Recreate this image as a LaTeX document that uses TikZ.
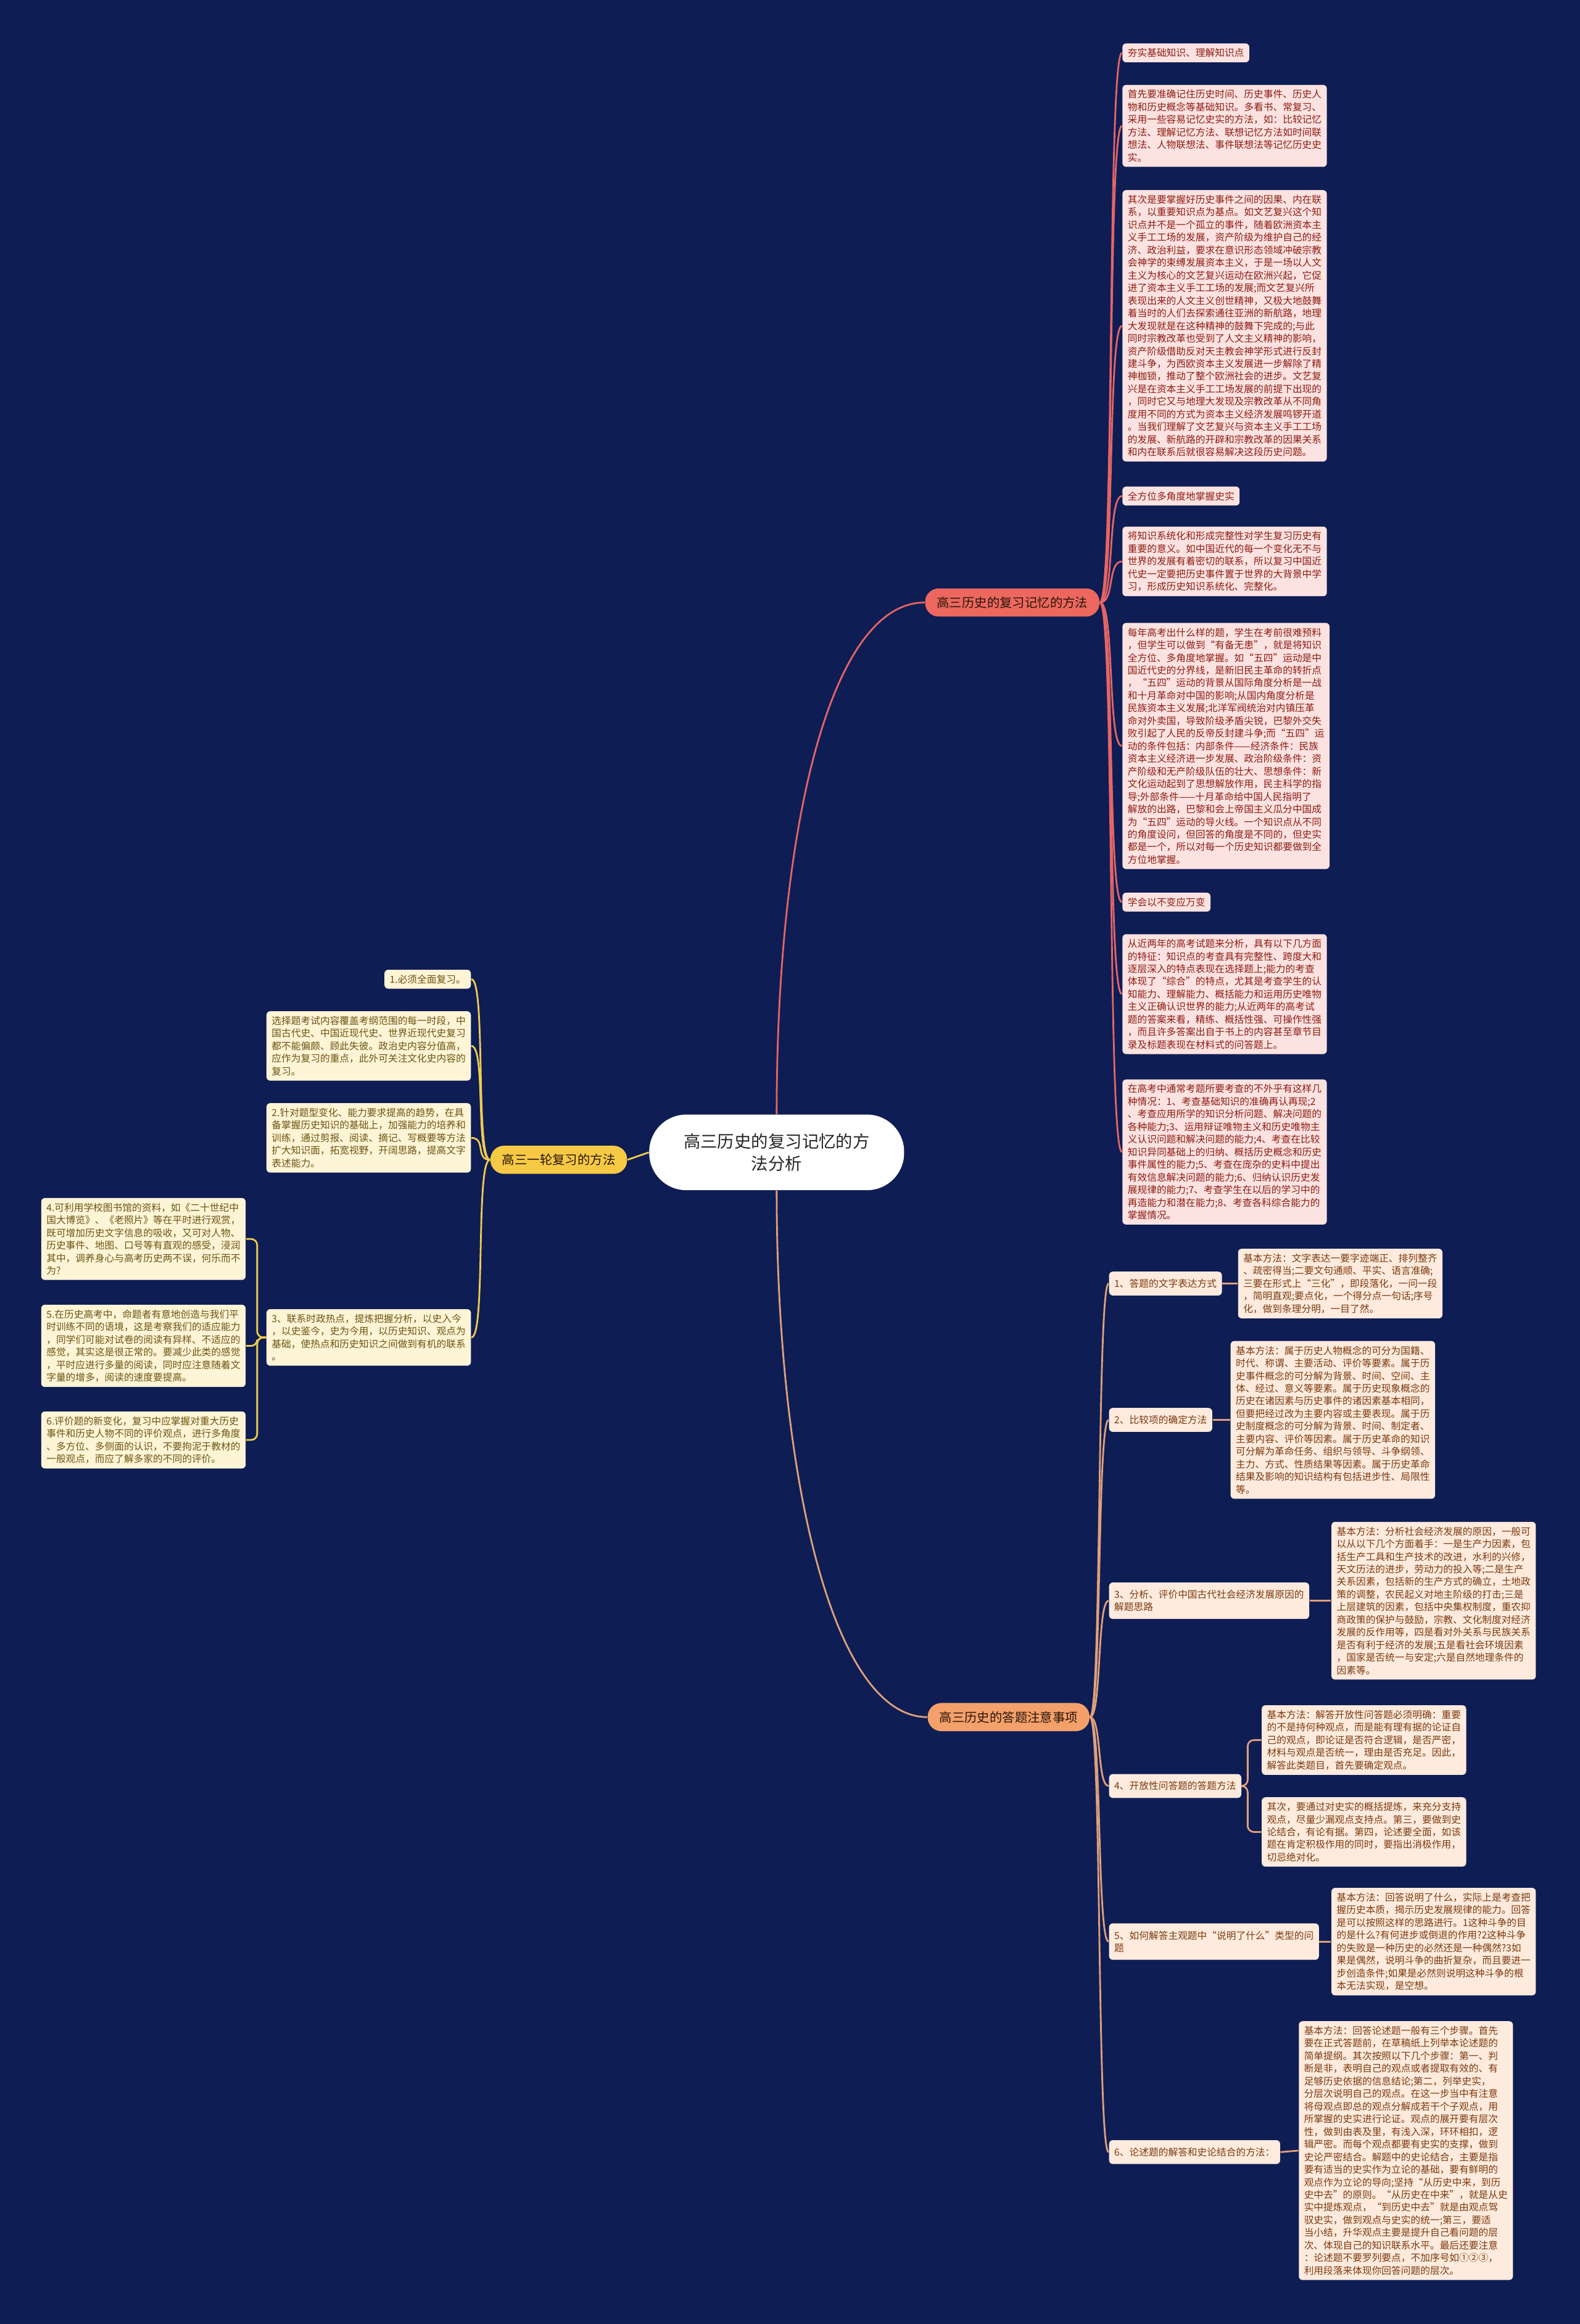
\documentclass[tikz,border=0pt]{standalone}
\usepackage{fontspec}
\setmainfont{Noto Sans CJK SC}
\definecolor{bgnavy}{RGB}{14,29,84}
\definecolor{redbr}{RGB}{236,104,94}
\definecolor{yelbr}{RGB}{246,201,69}
\definecolor{orabr}{RGB}{244,160,106}
\definecolor{brtext}{RGB}{40,20,10}
\definecolor{redfill}{RGB}{252,227,225}
\definecolor{redtext}{RGB}{140,28,19}
\definecolor{redln}{RGB}{229,101,101}
\definecolor{yelfill}{RGB}{254,244,214}
\definecolor{yeltext}{RGB}{107,85,18}
\definecolor{yelln}{RGB}{239,203,78}
\definecolor{orafill}{RGB}{254,235,221}
\definecolor{oratext}{RGB}{122,58,16}
\definecolor{oraln}{RGB}{224,160,122}
\begin{document}
\begin{tikzpicture}[x=0.024015cm,y=-0.024015cm,
  main/.style={fill=white,text=black!85,rounded corners=0.6cm,minimum width=4.13cm,minimum height=1.225cm,align=center,font=\fontsize{7.8pt}{10.4pt}\selectfont},
  branch/.style={rounded corners=0.22cm,minimum height=0.456cm,inner xsep=0.19cm,inner ysep=0pt,text=brtext,font=\fontsize{5.8pt}{7pt}\selectfont},
  box/.style={rounded corners=0.06cm,align=left,inner xsep=0.085cm,inner ysep=0.08cm,font=\fontsize{4.47pt}{5.82pt}\selectfont},
  redbox/.style={box,fill=redfill,text=redtext},
  yelbox/.style={box,fill=yelfill,text=yeltext},
  orabox/.style={box,fill=orafill,text=oratext},
  oralabel/.style={orabox,inner ysep=0.12cm},
  redline/.style={draw=redln,line width=0.8pt},
  yelline/.style={draw=yelln,line width=0.8pt},
  oraline/.style={draw=oraln,line width=0.8pt}]
\fill[bgnavy] (0,0) rectangle (1066,1568);

\node[main] (root) at (524,777.5) {高三历史的复习记忆的方\\法分析};
\node[branch,fill=redbr] (b1) at (683,406.5) {高三历史的复习记忆的方法};
\node[branch,fill=yelbr] (b2) at (377,782.5) {高三一轮复习的方法};
\node[branch,fill=orabr] (b3) at (680.5,1158.5) {高三历史的答题注意事项};

% right column, first branch
\node[redbox,anchor=north west] (c1) at (757,29) {夯实基础知识、理解知识点};
\node[redbox,anchor=north west] (c2) at (757,57) {首先要准确记住历史时间、历史事件、历史人\\物和历史概念等基础知识。多看书、常复习、\\采用一些容易记忆史实的方法，如：比较记忆\\方法、理解记忆方法、联想记忆方法如时间联\\想法、人物联想法、事件联想法等记忆历史史\\实。};
\node[redbox,anchor=north west] (c3) at (757,128) {其次是要掌握好历史事件之间的因果、内在联\\系，以重要知识点为基点。如文艺复兴这个知\\识点并不是一个孤立的事件，随着欧洲资本主\\义手工工场的发展，资产阶级为维护自己的经\\济、政治利益，要求在意识形态领域冲破宗教\\会神学的束缚发展资本主义，于是一场以人文\\主义为核心的文艺复兴运动在欧洲兴起，它促\\进了资本主义手工工场的发展;而文艺复兴所\\表现出来的人文主义创世精神，又极大地鼓舞\\着当时的人们去探索通往亚洲的新航路，地理\\大发现就是在这种精神的鼓舞下完成的;与此\\同时宗教改革也受到了人文主义精神的影响，\\资产阶级借助反对天主教会神学形式进行反封\\建斗争，为西欧资本主义发展进一步解除了精\\神枷锁，推动了整个欧洲社会的进步。文艺复\\兴是在资本主义手工工场发展的前提下出现的\\，同时它又与地理大发现及宗教改革从不同角\\度用不同的方式为资本主义经济发展鸣锣开道\\。当我们理解了文艺复兴与资本主义手工工场\\的发展、新航路的开辟和宗教改革的因果关系\\和内在联系后就很容易解决这段历史问题。};
\node[redbox,anchor=north west] (c4) at (757,328) {全方位多角度地掌握史实};
\node[redbox,anchor=north west] (c5) at (757,355) {将知识系统化和形成完整性对学生复习历史有\\重要的意义。如中国近代的每一个变化无不与\\世界的发展有着密切的联系，所以复习中国近\\代史一定要把历史事件置于世界的大背景中学\\习，形成历史知识系统化、完整化。};
\node[redbox,anchor=north west] (c6) at (757,420) {每年高考出什么样的题，学生在考前很难预料\\，但学生可以做到“有备无患”，就是将知识\\全方位、多角度地掌握。如“五四”运动是中\\国近代史的分界线，是新旧民主革命的转折点\\，“五四”运动的背景从国际角度分析是一战\\和十月革命对中国的影响;从国内角度分析是\\民族资本主义发展;北洋军阀统治对内镇压革\\命对外卖国，导致阶级矛盾尖锐，巴黎外交失\\败引起了人民的反帝反封建斗争;而“五四”运\\动的条件包括：内部条件——经济条件：民族\\资本主义经济进一步发展、政治阶级条件：资\\产阶级和无产阶级队伍的壮大、思想条件：新\\文化运动起到了思想解放作用，民主科学的指\\导;外部条件——十月革命给中国人民指明了\\解放的出路，巴黎和会上帝国主义瓜分中国成\\为“五四”运动的导火线。一个知识点从不同\\的角度设问，但回答的角度是不同的，但史实\\都是一个，所以对每一个历史知识都要做到全\\方位地掌握。};
\node[redbox,anchor=north west] (c7) at (757,602) {学会以不变应万变};
\node[redbox,anchor=north west] (c8) at (757,630) {从近两年的高考试题来分析，具有以下几方面\\的特征：知识点的考查具有完整性、跨度大和\\逐层深入的特点表现在选择题上;能力的考查\\体现了“综合”的特点，尤其是考查学生的认\\知能力、理解能力、概括能力和运用历史唯物\\主义正确认识世界的能力;从近两年的高考试\\题的答案来看，精练、概括性强、可操作性强\\，而且许多答案出自于书上的内容甚至章节目\\录及标题表现在材料式的问答题上。};
\node[redbox,anchor=north west] (c9) at (757,728) {在高考中通常考题所要考查的不外乎有这样几\\种情况：1、考查基础知识的准确再认再现;2\\、考查应用所学的知识分析问题、解决问题的\\各种能力;3、运用辩证唯物主义和历史唯物主\\义认识问题和解决问题的能力;4、考查在比较\\知识异同基础上的归纳、概括历史概念和历史\\事件属性的能力;5、考查在庞杂的史料中提出\\有效信息解决问题的能力;6、归纳认识历史发\\展规律的能力;7、考查学生在以后的学习中的\\再造能力和潜在能力;8、考查各科综合能力的\\掌握情况。};

% left side, second branch
\node[yelbox,anchor=north east] (a1) at (318,654) {1.必须全面复习。};
\node[yelbox,anchor=north east] (a2) at (318,682) {选择题考试内容覆盖考纲范围的每一时段，中\\国古代史、中国近现代史、世界近现代史复习\\都不能偏颇、顾此失彼。政治史内容分值高，\\应作为复习的重点，此外可关注文化史内容的\\复习。};
\node[yelbox,anchor=north east] (a3) at (318,744) {2.针对题型变化、能力要求提高的趋势，在具\\备掌握历史知识的基础上，加强能力的培养和\\训练，通过剪报、阅读、摘记、写概要等方法\\扩大知识面，拓宽视野，开阔思路，提高文字\\表述能力。};
\node[yelbox,anchor=north east] (a4) at (318,883) {3、联系时政热点，提炼把握分析，以史入今\\，以史鉴今，史为今用，以历史知识、观点为\\基础，使热点和历史知识之间做到有机的联系\\。};
\node[yelbox,anchor=north east] (e1) at (166,808) {4.可利用学校图书馆的资料，如《二十世纪中\\国大博览》、《老照片》等在平时进行观赏，\\既可增加历史文字信息的吸收，又可对人物、\\历史事件、地图、口号等有直观的感受，浸润\\其中，调养身心与高考历史两不误，何乐而不\\为?};
\node[yelbox,anchor=north east] (e2) at (166,880) {5.在历史高考中，命题者有意地创造与我们平\\时训练不同的语境，这是考察我们的适应能力\\，同学们可能对试卷的阅读有异样、不适应的\\感觉，其实这是很正常的。要减少此类的感觉\\，平时应进行多量的阅读，同时应注意随着文\\字量的增多，阅读的速度要提高。};
\node[yelbox,anchor=north east] (e3) at (166,952) {6.评价题的新变化，复习中应掌握对重大历史\\事件和历史人物不同的评价观点，进行多角度\\、多方位、多侧面的认识，不要拘泥于教材的\\一般观点，而应了解多家的不同的评价。};

% lower right, third branch
\node[oralabel,anchor=west] (l1) at (748,866) {1、答题的文字表达方式};
\node[orabox,anchor=west] (t1) at (835,866) {基本方法：文字表达一要字迹端正、排列整齐\\、疏密得当;二要文句通顺、平实、语言准确;\\三要在形式上“三化”，即段落化，一问一段\\，简明直观;要点化，一个得分点一句话;序号\\化，做到条理分明，一目了然。};
\node[oralabel,anchor=west] (l2) at (748,958) {2、比较项的确定方法};
\node[orabox,anchor=west] (t2) at (830,958) {基本方法：属于历史人物概念的可分为国籍、\\时代、称谓、主要活动、评价等要素。属于历\\史事件概念的可分解为背景、时间、空间、主\\体、经过、意义等要素。属于历史现象概念的\\历史在诸因素与历史事件的诸因素基本相同，\\但要把经过改为主要内容或主要表现。属于历\\史制度概念的可分解为背景、时间、制定者、\\主要内容、评价等因素。属于历史革命的知识\\可分解为革命任务、组织与领导、斗争纲领、\\主力、方式、性质结果等因素。属于历史革命\\结果及影响的知识结构有包括进步性、局限性\\等。};
\node[oralabel,anchor=west] (l3) at (748,1080) {3、分析、评价中国古代社会经济发展原因的\\解题思路};
\node[orabox,anchor=west] (t3) at (898,1080) {基本方法：分析社会经济发展的原因，一般可\\以从以下几个方面着手：一是生产力因素，包\\括生产工具和生产技术的改进，水利的兴修，\\天文历法的进步，劳动力的投入等;二是生产\\关系因素，包括新的生产方式的确立，土地政\\策的调整，农民起义对地主阶级的打击;三是\\上层建筑的因素，包括中央集权制度，重农抑\\商政策的保护与鼓励，宗教、文化制度对经济\\发展的反作用等，四是看对外关系与民族关系\\是否有利于经济的发展;五是看社会环境因素\\，国家是否统一与安定;六是自然地理条件的\\因素等。};
\node[oralabel,anchor=west] (l4) at (748,1205) {4、开放性问答题的答题方法};
\node[orabox,anchor=west] (t4a) at (851,1174) {基本方法：解答开放性问答题必须明确：重要\\的不是持何种观点，而是能有理有据的论证自\\己的观点，即论证是否符合逻辑，是否严密，\\材料与观点是否统一，理由是否充足。因此，\\解答此类题目，首先要确定观点。};
\node[orabox,anchor=west] (t4b) at (851,1236) {其次，要通过对史实的概括提炼，来充分支持\\观点，尽量少漏观点支持点。第三，要做到史\\论结合，有论有据。第四，论述要全面，如该\\题在肯定积极作用的同时，要指出消极作用，\\切忌绝对化。};
\node[oralabel,anchor=west] (l5) at (748,1310) {5、如何解答主观题中“说明了什么”类型的问\\题};
\node[orabox,anchor=west] (t5) at (898,1310) {基本方法：回答说明了什么，实际上是考查把\\握历史本质，揭示历史发展规律的能力。回答\\是可以按照这样的思路进行。1这种斗争的目\\的是什么?有何进步或倒退的作用?2这种斗争\\的失败是一种历史的必然还是一种偶然?3如\\果是偶然，说明斗争的曲折复杂，而且要进一\\步创造条件;如果是必然则说明这种斗争的根\\本无法实现，是空想。};
\node[oralabel,anchor=west] (l6) at (748,1452) {6、论述题的解答和史论结合的方法：};
\node[orabox,anchor=west] (t6) at (876,1451) {基本方法：回答论述题一般有三个步骤。首先\\要在正式答题前，在草稿纸上列举本论述题的\\简单提纲。其次按照以下几个步骤：第一、判\\断是非，表明自己的观点或者提取有效的、有\\足够历史依据的信息结论;第二，列举史实，\\分层次说明自己的观点。在这一步当中有注意\\将母观点即总的观点分解成若干个子观点，用\\所掌握的史实进行论证。观点的展开要有层次\\性，做到由表及里，有浅入深，环环相扣，逻\\辑严密。而每个观点都要有史实的支撑，做到\\史论严密结合。解题中的史论结合，主要是指\\要有适当的史实作为立论的基础，要有鲜明的\\观点作为立论的导向;坚持“从历史中来，到历\\史中去”的原则。“从历史在中来”，就是从史\\实中提炼观点，“到历史中去”就是由观点驾\\驭史实，做到观点与史实的统一;第三，要适\\当小结，升华观点主要是提升自己看问题的层\\次、体现自己的知识联系水平。最后还要注意\\：论述题不要罗列要点，不加序号如①②③，\\利用段落来体现你回答问题的层次。};

% connectors
\draw[redline] (root.north) .. controls +(0,-192) and +(-64,0) .. (b1.west);
\draw[oraline] (root.south) .. controls +(0,192) and +(-64,0) .. (b3.west);
\draw[yelline] (root.west) -- (b2.east);
\foreach \i in {1,...,9}
  \draw[redline] (b1.east) .. controls +(10,0) and +(-10,0) .. (c\i.west);
\foreach \i in {1,...,4}
  \draw[yelline] (b2.west) .. controls +(-10,0) and +(10,0) .. (a\i.east);
\foreach \i in {1,2,3}
  \draw[yelline,rounded corners=0.1cm] (a4.west) -- ++(-6,0) |- (e\i.east);
\foreach \i in {1,...,6}
  \draw[oraline] (b3.east) .. controls +(8,0) and +(-8,0) .. (l\i.west);
\foreach \i in {1,2,3,5,6}
  \draw[oraline] (l\i.east) -- (t\i.west);
\draw[oraline,rounded corners=0.1cm] (l4.east) -- ++(4,0) |- (t4a.west);
\draw[oraline,rounded corners=0.1cm] (l4.east) -- ++(4,0) |- (t4b.west);
\end{tikzpicture}
\end{document}
